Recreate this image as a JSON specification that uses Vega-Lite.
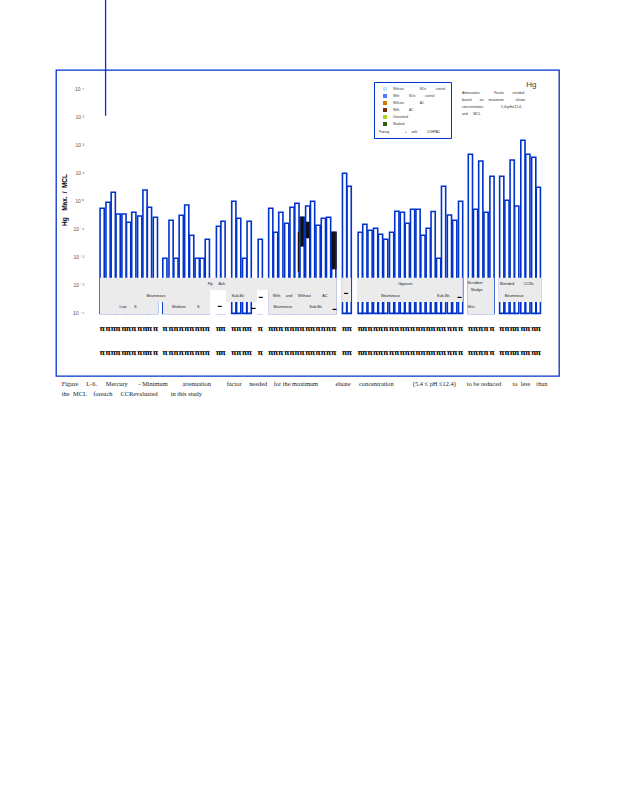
{
  "$schema": "https://vega.github.io/schema/vega-lite/v6.json",
  "width": 503,
  "height": 306,
  "autosize": {"type": "none"},
  "padding": {"left": 56, "top": 70, "right": 59, "bottom": 424},
  "background": "white",
  "config": {"view": {"stroke": "#0033cc", "strokeWidth": 1.3}, "font": "Liberation Sans"},
  "datasets": {
    "bars": [
      {"slot": 7.93, "ratio": 0.55}, {"slot": 9.07, "ratio": 0.899}, {"slot": 10.07, "ratio": 2.04}, {"slot": 11.01, "ratio": 0.345},
      {"slot": 12.14, "ratio": 0.345}, {"slot": 13.03, "ratio": 0.175}, {"slot": 14.03, "ratio": 0.396}, {"slot": 15.17, "ratio": 0.292},
      {"slot": 16.19, "ratio": 2.46}, {"slot": 17.05, "ratio": 0.597}, {"slot": 18.19, "ratio": 0.263}, {"slot": 20.02, "ratio": 0.00914},
      {"slot": 21.21, "ratio": 0.206}, {"slot": 22.15, "ratio": 0.00914}, {"slot": 23.17, "ratio": 0.31}, {"slot": 24.23, "ratio": 0.721},
      {"slot": 25.18, "ratio": 0.0602}, {"slot": 26.25, "ratio": 0.00914}, {"slot": 27.2, "ratio": 0.00914}, {"slot": 28.2, "ratio": 0.0434},
      {"slot": 30.35, "ratio": 0.126}, {"slot": 31.22, "ratio": 0.19}, {"slot": 33.3, "ratio": 0.976}, {"slot": 34.24, "ratio": 0.242},
      {"slot": 35.38, "ratio": 0.00914}, {"slot": 36.26, "ratio": 0.19}, {"slot": 38.4, "ratio": 0.0434}, {"slot": 40.42, "ratio": 0.55},
      {"slot": 41.36, "ratio": 0.0769}, {"slot": 42.36, "ratio": 0.396}, {"slot": 43.5, "ratio": 0.161}, {"slot": 44.52, "ratio": 0.597},
      {"slot": 45.46, "ratio": 0.828}, {"slot": 46.46, "ratio": 0.263}, {"slot": 47.54, "ratio": 0.664}, {"slot": 48.48, "ratio": 0.976},
      {"slot": 49.54, "ratio": 0.137}, {"slot": 50.56, "ratio": 0.242}, {"slot": 51.56, "ratio": 0.263}, {"slot": 52.56, "ratio": 0.0769},
      {"slot": 54.64, "ratio": 9.68}, {"slot": 55.53, "ratio": 3.34}, {"slot": 57.66, "ratio": 0.0769}, {"slot": 58.55, "ratio": 0.148},
      {"slot": 59.55, "ratio": 0.0907}, {"slot": 60.63, "ratio": 0.107}, {"slot": 61.57, "ratio": 0.0653}, {"slot": 62.57, "ratio": 0.0434},
      {"slot": 63.71, "ratio": 0.0769}, {"slot": 64.72, "ratio": 0.43}, {"slot": 65.78, "ratio": 0.396}, {"slot": 66.73, "ratio": 0.161},
      {"slot": 67.75, "ratio": 0.507}, {"slot": 68.8, "ratio": 0.507}, {"slot": 69.75, "ratio": 0.0602}, {"slot": 70.77, "ratio": 0.107},
      {"slot": 71.71, "ratio": 0.423}, {"slot": 72.77, "ratio": 0.00914}, {"slot": 73.72, "ratio": 3.34}, {"slot": 74.85, "ratio": 0.318},
      {"slot": 75.87, "ratio": 0.206}, {"slot": 77.0, "ratio": 0.976}, {"slot": 78.89, "ratio": 45.9}, {"slot": 79.89, "ratio": 0.507},
      {"slot": 80.89, "ratio": 26.5}, {"slot": 81.91, "ratio": 0.396}, {"slot": 83.05, "ratio": 7.57}, {"slot": 84.93, "ratio": 7.57},
      {"slot": 85.94, "ratio": 1.06}, {"slot": 86.94, "ratio": 28.8}, {"slot": 87.82, "ratio": 0.664}, {"slot": 89.01, "ratio": 144.5},
      {"slot": 89.96, "ratio": 45.9}, {"slot": 91.09, "ratio": 35.9}, {"slot": 91.98, "ratio": 3.07}
    ],
    "decades": [
      {"level": 0.0001, "label": "10 \u207b\u2074"}, {"level": 0.001, "label": "10 \u207b\u00b3"}, {"level": 0.01, "label": "10 \u207b\u00b2"},
      {"level": 0.1, "label": "10 \u207b\u00b9"}, {"level": 1, "label": "10 \u2070"}, {"level": 10, "label": "10 \u00b9"},
      {"level": 100, "label": "10 \u00b2"}, {"level": 1000, "label": "10 \u00b3"}, {"level": 10000, "label": "10 \u2074"}
    ],
    "dark": [
      {"slot": 46.46, "upper": 0.276, "lower": 0.0237},
      {"slot": 47.54, "upper": 0.183, "lower": 0.0471},
      {"slot": 52.5, "upper": 0.0808, "lower": 0.00371}
    ],
    "darkthin": [
      {"slot": 45.74, "upper": 0.0808, "lower": 0.00305},
      {"slot": 53.0, "upper": 0.0808, "lower": 0.00371}
    ],
    "cells": [
      {"slot": 7.5, "slot_end": 53.13, "upper": 0.001862, "lower": 0.00068},
      {"slot": 7.5, "slot_end": 28.71, "upper": 0.00068, "lower": 0.0002545},
      {"slot": 31.79, "slot_end": 37.77, "upper": 0.00068, "lower": 0.0002545},
      {"slot": 39.91, "slot_end": 53.13, "upper": 0.00068, "lower": 0.0002545},
      {"slot": 7.5, "slot_end": 18.7, "upper": 0.0002545, "lower": 0.0000929},
      {"slot": 19.64, "slot_end": 28.71, "upper": 0.0002545, "lower": 0.0000929},
      {"slot": 39.91, "slot_end": 53.13, "upper": 0.0002545, "lower": 0.0000929},
      {"slot": 54.02, "slot_end": 55.9, "upper": 0.001862, "lower": 0.0002545},
      {"slot": 57.04, "slot_end": 77.44, "upper": 0.001862, "lower": 0.0002545},
      {"slot": 78.32, "slot_end": 83.48, "upper": 0.001862, "lower": 0.0000929},
      {"slot": 84.37, "slot_end": 92.55, "upper": 0.001862, "lower": 0.0002545}
    ],
    "blanks": [
      {"slot": 28.71, "slot_end": 31.79, "upper": 0.00068, "lower": 0.0000929},
      {"slot": 37.77, "slot_end": 39.91, "upper": 0.00068, "lower": 0.0000929}
    ],
    "bandlabels": [
      {"label": "Fly\u2003\u2002Ash", "slot": 28.27, "level": 0.001094},
      {"label": "Bituminous", "slot": 16.49, "level": 0.000416},
      {"label": "Sub-Bit", "slot": 32.86, "level": 0.000416},
      {"label": "Low\u2003\u2003S", "slot": 11.28, "level": 0.000173},
      {"label": "Medium\u2003\u2003\u2003S", "slot": 21.4, "level": 0.000173},
      {"label": "With\u2003\u2002and\u2003\u2002Without\u2003\u2003\u2003AC", "slot": 40.8, "level": 0.000416},
      {"label": "Bituminous", "slot": 40.93, "level": 0.000169},
      {"label": "Sub-Bit", "slot": 47.84, "level": 0.000169},
      {"label": "Gypsum", "slot": 64.97, "level": 0.00109},
      {"label": "Bituminous", "slot": 61.7, "level": 0.00041},
      {"label": "Sub-Bit", "slot": 72.43, "level": 0.00041},
      {"label": "Scrubber", "slot": 78.32, "level": 0.001207},
      {"label": "Sludge", "slot": 78.95, "level": 0.00068},
      {"label": "Bitu", "slot": 78.44, "level": 0.000169},
      {"label": "Blended", "slot": 84.61, "level": 0.00109},
      {"label": "CCRs", "slot": 89.15, "level": 0.00109},
      {"label": "Bituminous", "slot": 85.5, "level": 0.000416}
    ],
    "smudges": [
      {"slot": 30.6, "level": 0.000183}, {"slot": 37.11, "level": 0.00016}, {"slot": 38.47, "level": 0.000374},
      {"slot": 52.69, "level": 0.000143}, {"slot": 54.9, "level": 0.000545}, {"slot": 76.81, "level": 0.000374}
    ],
    "notes": [
      {"word": "Attenuation", "slot": 77.25, "level": 6808}, {"word": "Factor", "slot": 83.48, "level": 6808}, {"word": "needed", "slot": 87.01, "level": 6808},
      {"word": "based", "slot": 77.25, "level": 3930}, {"word": "on", "slot": 80.7, "level": 3930}, {"word": "maximum", "slot": 82.4, "level": 3930}, {"word": "eluate", "slot": 87.63, "level": 3930},
      {"word": "concentration,", "slot": 77.25, "level": 2270}, {"word": "5.4\u2264pH\u226412.4,", "slot": 84.8, "level": 2270},
      {"word": "and", "slot": 77.25, "level": 1279}, {"word": "MCL", "slot": 79.46, "level": 1279}
    ],
    "caption": [
      {"word": "Figure", "slot": 0.13, "level": 3.2e-7}, {"word": "L-6.", "slot": 4.85, "level": 3.2e-7},
      {"word": "Mercury", "slot": 8.63, "level": 3.2e-7}, {"word": "- Minimum", "slot": 14.92, "level": 3.2e-7},
      {"word": "attenuation", "slot": 23.42, "level": 3.2e-7}, {"word": "factor", "slot": 31.92, "level": 3.2e-7},
      {"word": "needed", "slot": 36.26, "level": 3.2e-7}, {"word": "for the maximum", "slot": 40.98, "level": 3.2e-7},
      {"word": "eluate", "slot": 52.88, "level": 3.2e-7}, {"word": "concentration", "slot": 57.41, "level": 3.2e-7},
      {"word": "(5.4 \u2264 pH \u226412.4)", "slot": 67.8, "level": 3.2e-7}, {"word": "to be reduced", "slot": 78.19, "level": 3.2e-7},
      {"word": "to", "slot": 87.01, "level": 3.2e-7}, {"word": "less", "slot": 88.58, "level": 3.2e-7}, {"word": "than", "slot": 91.6, "level": 3.2e-7},
      {"word": "the", "slot": 0.13, "level": 1.355e-7}, {"word": "MCL", "slot": 2.32, "level": 1.355e-7},
      {"word": "foreach", "slot": 6.23, "level": 1.355e-7}, {"word": "CCRevaluated", "slot": 11.46, "level": 1.355e-7},
      {"word": "in this study", "slot": 21.15, "level": 1.355e-7}
    ],
    "legend": [
      {"item": "Without\u2003\u2003\u2003\u2003\u2003NOx\u2003\u2003\u2003control"},
      {"item": "With\u2003\u2003\u2003NOx\u2003\u2003\u2003control"},
      {"item": "Without\u2003\u2003\u2003\u2003\u2003AC"},
      {"item": "With\u2003\u2003\u2003AC"},
      {"item": "Unwashed"},
      {"item": "Washed"}
    ]
  },
  "layer": [
    {
      "data": {"values": [{}]},
      "mark": {"type": "rule", "color": "#0033cc", "strokeWidth": 1.3, "clip": false},
      "encoding": {
        "x": {"datum": 8.594, "type": "quantitative", "scale": {"domain": [0, 95], "nice": false, "zero": false}, "axis": null},
        "y": {"datum": 14200000, "type": "quantitative", "scale": {"type": "log", "domain": [5.92e-7, 45920], "nice": false}, "axis": null},
        "y2": {"datum": 1086}
      }
    },
    {
      "data": {"name": "decades"},
      "mark": {"type": "text", "align": "right", "baseline": "middle", "fontSize": 5, "color": "#555555"},
      "encoding": {
        "x": {"datum": 4.45, "type": "quantitative", "scale": {"domain": [0, 95], "nice": false, "zero": false}, "axis": null},
        "y": {"field": "level", "type": "quantitative", "scale": {"type": "log", "domain": [5.92e-7, 45920], "nice": false}, "axis": null},
        "text": {"field": "label"}
      }
    },
    {
      "data": {"name": "bars"},
      "mark": {"type": "bar", "width": 4.2, "fill": "white", "stroke": "#0033cc", "strokeWidth": 1.6},
      "encoding": {
        "x": {"field": "slot", "type": "quantitative", "scale": {"domain": [0, 95], "nice": false, "zero": false}, "axis": null},
        "y": {"field": "ratio", "type": "quantitative", "scale": {"type": "log", "domain": [5.92e-7, 45920], "nice": false}, "axis": null},
        "y2": {"datum": 0.0001}
      }
    },
    {
      "data": {"name": "dark"},
      "mark": {"type": "bar", "width": 3.5, "color": "#111111"},
      "encoding": {
        "x": {"field": "slot", "type": "quantitative", "scale": {"domain": [0, 95], "nice": false, "zero": false}, "axis": null},
        "y": {"field": "upper", "type": "quantitative", "scale": {"type": "log", "domain": [5.92e-7, 45920], "nice": false}, "axis": null},
        "y2": {"field": "lower"}
      }
    },
    {
      "data": {"name": "darkthin"},
      "mark": {"type": "bar", "width": 1.2, "color": "#111111"},
      "encoding": {
        "x": {"field": "slot", "type": "quantitative", "scale": {"domain": [0, 95], "nice": false, "zero": false}, "axis": null},
        "y": {"field": "upper", "type": "quantitative", "scale": {"type": "log", "domain": [5.92e-7, 45920], "nice": false}, "axis": null},
        "y2": {"field": "lower"}
      }
    },
    {
      "data": {"name": "cells"},
      "mark": {"type": "rect", "color": "#ebebeb"},
      "encoding": {
        "x": {"field": "slot", "type": "quantitative", "scale": {"domain": [0, 95], "nice": false, "zero": false}, "axis": null},
        "x2": {"field": "slot_end"},
        "y": {"field": "upper", "type": "quantitative", "scale": {"type": "log", "domain": [5.92e-7, 45920], "nice": false}, "axis": null},
        "y2": {"field": "lower"}
      }
    },
    {
      "data": {"name": "blanks"},
      "mark": {"type": "rect", "color": "#ffffff"},
      "encoding": {
        "x": {"field": "slot", "type": "quantitative", "scale": {"domain": [0, 95], "nice": false, "zero": false}, "axis": null},
        "x2": {"field": "slot_end"},
        "y": {"field": "upper", "type": "quantitative", "scale": {"type": "log", "domain": [5.92e-7, 45920], "nice": false}, "axis": null},
        "y2": {"field": "lower"}
      }
    },
    {
      "data": {"name": "bandlabels"},
      "mark": {"type": "text", "align": "left", "baseline": "middle", "fontSize": 3.8, "color": "#222222"},
      "encoding": {
        "x": {"field": "slot", "type": "quantitative", "scale": {"domain": [0, 95], "nice": false, "zero": false}, "axis": null},
        "y": {"field": "level", "type": "quantitative", "scale": {"type": "log", "domain": [5.92e-7, 45920], "nice": false}, "axis": null},
        "text": {"field": "label"}
      }
    },
    {
      "data": {"name": "smudges"},
      "mark": {"type": "text", "align": "center", "baseline": "middle", "fontSize": 4, "fontWeight": "bold", "color": "#000000", "text": "\u25ac"},
      "encoding": {
        "x": {"field": "slot", "type": "quantitative", "scale": {"domain": [0, 95], "nice": false, "zero": false}, "axis": null},
        "y": {"field": "level", "type": "quantitative", "scale": {"type": "log", "domain": [5.92e-7, 45920], "nice": false}, "axis": null}
      }
    },
    {
      "data": {"name": "bars"},
      "mark": {"type": "text", "align": "center", "baseline": "middle", "fontSize": 7, "fontWeight": "bold", "font": "DejaVu Sans", "color": "#000000", "text": "\u03c0"},
      "encoding": {
        "x": {"field": "slot", "type": "quantitative", "scale": {"domain": [0, 95], "nice": false, "zero": false}, "axis": null},
        "y": {"datum": 0.00002786, "type": "quantitative", "scale": {"type": "log", "domain": [5.92e-7, 45920], "nice": false}, "axis": null}
      }
    },
    {
      "data": {"name": "bars"},
      "mark": {"type": "text", "align": "center", "baseline": "middle", "fontSize": 7, "fontWeight": "bold", "font": "DejaVu Sans", "color": "#000000", "text": "\u03c0"},
      "encoding": {
        "x": {"field": "slot", "type": "quantitative", "scale": {"domain": [0, 95], "nice": false, "zero": false}, "axis": null},
        "y": {"datum": 0.0000039, "type": "quantitative", "scale": {"type": "log", "domain": [5.92e-7, 45920], "nice": false}, "axis": null}
      }
    },
    {
      "data": {"name": "notes"},
      "mark": {"type": "text", "align": "left", "baseline": "middle", "fontSize": 3.5, "color": "#333333"},
      "encoding": {
        "x": {"field": "slot", "type": "quantitative", "scale": {"domain": [0, 95], "nice": false, "zero": false}, "axis": null},
        "y": {"field": "level", "type": "quantitative", "scale": {"type": "log", "domain": [5.92e-7, 45920], "nice": false}, "axis": null},
        "text": {"field": "word"}
      }
    },
    {
      "data": {"values": [{}]},
      "mark": {"type": "text", "align": "left", "baseline": "middle", "fontSize": 8, "color": "#444444", "text": "Hg"},
      "encoding": {
        "x": {"datum": 89.67, "type": "quantitative", "scale": {"domain": [0, 95], "nice": false, "zero": false}, "axis": null},
        "y": {"datum": 13430, "type": "quantitative", "scale": {"type": "log", "domain": [5.92e-7, 45920], "nice": false}, "axis": null}
      }
    },
    {
      "data": {"values": [{}]},
      "mark": {"type": "text", "align": "center", "baseline": "middle", "angle": 270, "fontSize": 6.5, "fontWeight": "bold", "color": "#000000", "text": "Hg\u2002\u2002Max.\u2002/\u2002MCL"},
      "encoding": {
        "x": {"datum": 0.75, "type": "quantitative", "scale": {"domain": [0, 95], "nice": false, "zero": false}, "axis": null},
        "y": {"datum": 1.085, "type": "quantitative", "scale": {"type": "log", "domain": [5.92e-7, 45920], "nice": false}, "axis": null}
      }
    },
    {
      "data": {"name": "caption"},
      "mark": {"type": "text", "align": "left", "baseline": "middle", "fontSize": 6.4, "font": "Liberation Serif", "color": "#222222"},
      "encoding": {
        "x": {"field": "slot", "type": "quantitative", "scale": {"domain": [0, 95], "nice": false, "zero": false}, "axis": null},
        "y": {"field": "level", "type": "quantitative", "scale": {"type": "log", "domain": [5.92e-7, 45920], "nice": false}, "axis": null},
        "text": {"field": "word"}
      }
    },
    {
      "data": {"name": "legend"},
      "mark": {"type": "point", "opacity": 0, "filled": true},
      "encoding": {
        "color": {"field": "item", "type": "nominal",
          "scale": {"domain": ["Without\u2003\u2003\u2003\u2003\u2003NOx\u2003\u2003\u2003control", "With\u2003\u2003\u2003NOx\u2003\u2003\u2003control", "Without\u2003\u2003\u2003\u2003\u2003AC", "With\u2003\u2003\u2003AC", "Unwashed", "Washed"],
            "range": ["#c2e4ff", "#4a78ff", "#cc7a00", "#6b3000", "#a6d41c", "#365c0c"]},
          "legend": {"orient": "none", "legendX": 318, "legendY": 12, "title": "Pairing\u2003\u2003\u2003\u2003\u2003+\u2003\u2002with\u2003\u2003\u2003COHPAC",
            "titleOrient": "bottom", "titleFontSize": 3.2, "titleFontWeight": "normal", "titleColor": "#222222", "titlePadding": 3.4,
            "labelFontSize": 3.2, "labelColor": "#333333", "symbolType": "square", "symbolSize": 16, "symbolStrokeWidth": 0, "symbolOpacity": 1,
            "rowPadding": 3, "padding": 5, "strokeColor": "#0033cc", "symbolOffset": 4, "labelOffset": 6, "direction": "vertical"}}
      }
    }
  ]
}
